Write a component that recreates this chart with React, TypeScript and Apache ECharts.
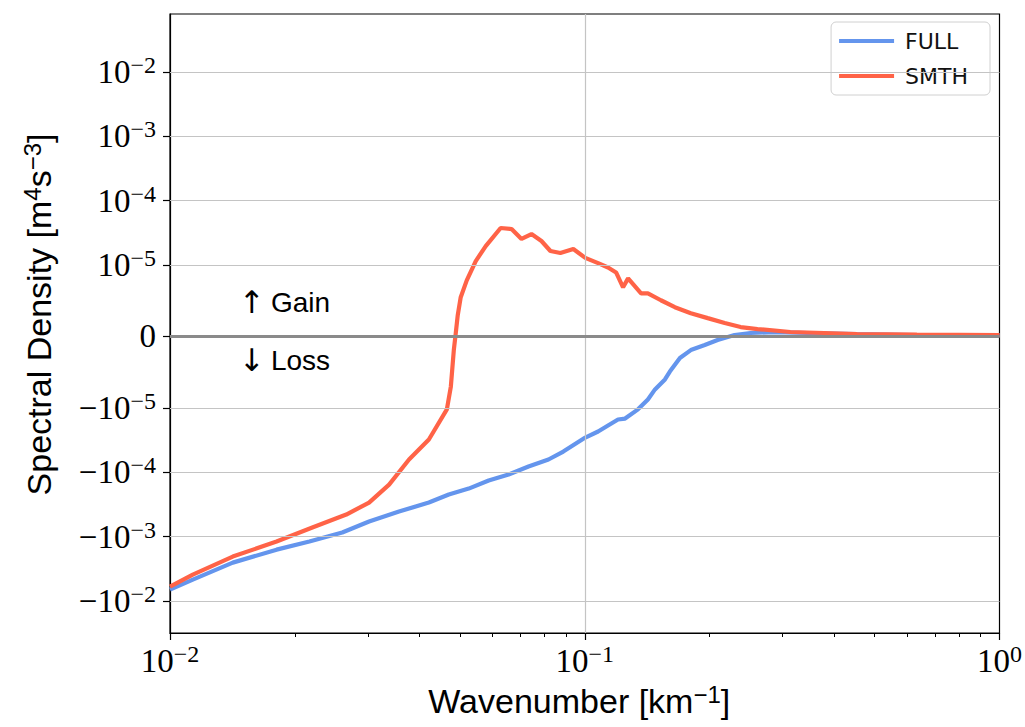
import React, { useEffect, useRef } from 'react';
import * as echarts from 'echarts';

// ---------- data ----------
const kFull = [
  0.01, 0.01135, 0.01417, 0.01807, 0.02168, 0.02602, 0.0302, 0.03566, 0.04209, 0.04701,
  0.05251, 0.05866, 0.06552, 0.07318, 0.08176, 0.08878, 0.1003, 0.1077, 0.1138, 0.1203,
  0.1251, 0.1344, 0.142, 0.1477, 0.1561, 0.1604, 0.1696, 0.1802, 0.1947, 0.2091,
  0.2297, 0.251, 0.2868, 0.344, 0.4536, 0.632, 1.0,
];
const full = [
  -6.65e-3, -4.64e-3, -2.53e-3, -1.59e-3, -1.19e-3, -8.63e-4, -5.82e-4, -4.07e-4, -2.95e-4, -2.21e-4,
  -1.79e-4, -1.34e-4, -1.08e-4, -8.13e-5, -6.32e-5, -4.75e-5, -2.88e-5, -2.32e-5, -1.87e-5, -1.51e-5,
  -1.46e-5, -1.05e-5, -8.8e-6, -7.4e-6, -6.0e-6, -4.9e-6, -3.0e-6, -1.9e-6, -1.2e-6, -5e-7,
  2e-7, 4.9e-7, 6.2e-7, 4.9e-7, 3.5e-7, 2e-7, 2e-7,
];
const kSmth = [
  0.01, 0.01135, 0.01417, 0.01807, 0.02204, 0.02661, 0.0302, 0.03375, 0.0377, 0.04209,
  0.04651, 0.04755, 0.04834, 0.04887, 0.04941, 0.05023, 0.05194, 0.0546, 0.05771, 0.06269,
  0.06661, 0.07039, 0.07439, 0.07863, 0.08265, 0.08734, 0.09385, 0.1003, 0.1077, 0.1138,
  0.119, 0.1237, 0.1272, 0.1367, 0.142, 0.1526, 0.1649, 0.1802, 0.1979, 0.2175,
  0.2376, 0.261, 0.3131, 0.378, 0.4536, 0.632, 1.0,
];
const smth = [
  -5.97e-3, -3.88e-3, -2.04e-3, -1.19e-3, -7.21e-4, -4.53e-4, -2.95e-4, -1.55e-4, -6.32e-5, -3.09e-5,
  -1.05e-5, -7.0e-6, -1.9e-6, 5e-7, 3.0e-6, 5.5e-6, 7.85e-6, 1.15e-5, 1.97e-5, 3.76e-5,
  3.62e-5, 2.54e-5, 3.03e-5, 2.36e-5, 1.65e-5, 1.54e-5, 1.77e-5, 1.29e-5, 1.07e-5, 9.65e-6,
  8.96e-6, 6.88e-6, 8.13e-6, 6.04e-6, 6.04e-6, 5.07e-6, 4.1e-6, 3.26e-6, 2.57e-6, 1.88e-6,
  1.32e-6, 1.04e-6, 6.3e-7, 4.9e-7, 3.5e-7, 2.8e-7, 2e-7,
];

const yTickValues = [-1e-2, -1e-3, -1e-4, -1e-5, 0, 1e-5, 1e-4, 1e-3, 1e-2];
const yTickLabels = ['-10^-2', '-10^-3', '-10^-4', '-10^-5', '0', '10^-5', '10^-4', '10^-3', '10^-2'];
const xMajorTicks = [0.01, 0.1, 1];
const xMajorLabels = ['10^-2', '10^-1', '10^0'];
const xMinorTicks = [0.02, 0.03, 0.04, 0.05, 0.06, 0.07, 0.08, 0.09, 0.2, 0.3, 0.4, 0.5, 0.6, 0.7, 0.8, 0.9];
const xGridLines = [0.1];
const xLimits = [0.01, 1];
const yLimits = [-0.0314, 0.0796];

// symlog transform (linthresh 1e-5, linscale 1, base 10) as in matplotlib
const LINTHRESH = 1e-5;
const LINSCALE = 1 / (1 - 1 / 10);
function symlog(v: number): number {
  const a = Math.abs(v);
  if (a <= LINTHRESH) return (v / LINTHRESH) * LINSCALE;
  return Math.sign(v) * (LINSCALE + Math.log10(a / LINTHRESH));
}

function toRich(label: string): string {
  const s = label.replace(/-/g, '\u2212');
  const parts = s.split('^');
  if (parts.length === 1) return `{b|${parts[0]}}`;
  return `{b|${parts[0]}}{s|${parts[1]}}`;
}

const SERIF = '"Liberation Serif", "DejaVu Serif", serif';
const SANS = '"Liberation Sans", "DejaVu Sans", sans-serif';

const tickRich = {
  b: { fontFamily: SERIF, fontSize: 33, lineHeight: 38, color: '#000' },
  s: { fontFamily: SERIF, fontSize: 24, lineHeight: 20, verticalAlign: 'top', color: '#000' },
};
const nameRich = {
  n: { fontFamily: SANS, fontSize: 34, lineHeight: 38, color: '#000' },
  s: { fontFamily: SANS, fontSize: 24, lineHeight: 19, verticalAlign: 'top', color: '#000' },
};
const noteRich = {
  a: { fontFamily: '"DejaVu Sans", sans-serif', fontSize: 31, lineHeight: 36, color: '#000' },
  t: { fontFamily: SANS, fontSize: 28, lineHeight: 36, color: '#000', padding: [0, 0, 0, 6] },
};

export default function App() {
  const ref = useRef<HTMLDivElement>(null);

  useEffect(() => {
    if (!ref.current) return;
    const chart = echarts.init(ref.current, null, { renderer: 'svg' });
    const yTickT = yTickValues.map(symlog);

    const option: any = {
      animation: false,
      backgroundColor: '#fff',
      grid: {
        left: 170, right: 22, top: 14, bottom: 94,
        show: true, borderColor: '#000', borderWidth: 1.2, backgroundColor: 'transparent',
      },
      legend: {
        data: ['FULL', 'SMTH'],
        orient: 'vertical',
        right: 35,
        top: 22,
        icon: 'rect',
        itemWidth: 55,
        itemHeight: 4,
        itemGap: 11,
        padding: [7, 22, 7, 8],
        borderColor: '#d0d0d0',
        borderWidth: 1,
        borderRadius: 5,
        backgroundColor: 'rgba(255,255,255,0.85)',
        textStyle: {
          fontFamily: '"DejaVu Sans", sans-serif', fontSize: 22, color: '#111',
          lineHeight: 24, padding: [0, 0, 0, 6],
        },
      },
      xAxis: [
        {
          type: 'log',
          logBase: 10,
          min: xLimits[0],
          max: xLimits[1],
          position: 'bottom',
          axisLine: { show: true, onZero: false, lineStyle: { color: '#000', width: 1.2 } },
          axisTick: { show: true, inside: false, length: 7, customValues: xMajorTicks, lineStyle: { color: '#000', width: 1.2 } },
          axisLabel: {
            customValues: xMajorTicks,
            margin: 9,
            formatter: (v: number) => {
              const i = xMajorTicks.findIndex((t) => Math.abs(Math.log10(t) - Math.log10(v)) < 1e-6);
              return i < 0 ? '' : toRich(xMajorLabels[i]);
            },
            rich: tickRich,
          },
          splitLine: { show: false },
          minorTick: { show: false },
          name: '{n|Wavenumber [km}{s|\u22121}{n|]}',
          nameLocation: 'middle',
          nameGap: 44,
          nameTextStyle: { rich: nameRich, padding: [0, 11, 0, 0] },
        },
        {
          type: 'log',
          logBase: 10,
          min: xLimits[0],
          max: xLimits[1],
          position: 'bottom',
          axisLine: { show: false, onZero: false },
          axisTick: { show: true, inside: false, length: 4, customValues: xMinorTicks, lineStyle: { color: '#000', width: 1 } },
          axisLabel: { show: false },
          splitLine: { show: false },
        },
      ],
      yAxis: {
        type: 'value',
        min: symlog(yLimits[0]),
        max: symlog(yLimits[1]),
        axisLine: { show: true, onZero: false, lineStyle: { color: '#000', width: 1.2 } },
        axisTick: { show: true, inside: false, length: 7, customValues: yTickT, lineStyle: { color: '#000', width: 1.2 } },
        axisLabel: {
          customValues: yTickT,
          margin: 14,
          formatter: (v: number) => {
            const i = yTickT.findIndex((t) => Math.abs(t - v) < 1e-4);
            return i < 0 ? '' : toRich(yTickLabels[i]);
          },
          rich: tickRich,
        },
        splitLine: { show: false },
        name: '{n|Spectral Density [m}{s|4}{n|s}{s|\u22123}{n|]}',
        nameLocation: 'middle',
        nameRotate: 90,
        nameGap: 112,
        nameTextStyle: { rich: nameRich, padding: [0, 0, 0, 18] },
      },
      series: [
        {
          name: 'gridlines',
          type: 'line',
          xAxisIndex: 0,
          yAxisIndex: 0,
          data: [],
          z: 1,
          silent: true,
          markLine: {
            silent: true,
            symbol: ['none', 'none'],
            label: { show: false },
            emphasis: { disabled: true },
            lineStyle: { color: '#c4c4c4', width: 1.2, type: 'solid' },
            data: [
              ...yTickValues.filter((v) => v !== 0).map((v) => ({ yAxis: symlog(v) })),
              ...xGridLines.map((v) => ({ xAxis: v })),
              { yAxis: 0, lineStyle: { color: '#8a8a8a', width: 3, type: 'solid' } },
            ],
          },
        },
        {
          name: 'FULL',
          type: 'line',
          xAxisIndex: 0,
          yAxisIndex: 0,
          showSymbol: false,
          symbol: 'none',
          z: 3,
          color: '#6495ED',
          lineStyle: { color: '#6495ED', width: 4.2 },
          data: kFull.map((k, i) => [k, symlog(full[i])]),
        },
        {
          name: 'SMTH',
          type: 'line',
          xAxisIndex: 0,
          yAxisIndex: 0,
          showSymbol: false,
          symbol: 'none',
          z: 4,
          color: '#FF6347',
          lineStyle: { color: '#FF6347', width: 4.2 },
          data: kSmth.map((k, i) => [k, symlog(smth[i])]),
        },
      ],
      graphic: [
        {
          type: 'text',
          x: 239,
          y: 302,
          style: { text: '{a|\u2191}{t|Gain}', rich: noteRich, verticalAlign: 'middle' },
        },
        {
          type: 'text',
          x: 239,
          y: 360,
          style: { text: '{a|\u2193}{t|Loss}', rich: noteRich, verticalAlign: 'middle' },
        },
      ],
    };

    chart.setOption(option);
    return () => chart.dispose();
  }, []);

  return (
    <div
      ref={ref}
      style={{ position: 'fixed', left: 0, top: 0, width: 1025, height: 727, background: '#fff' }}
    />
  );
}
